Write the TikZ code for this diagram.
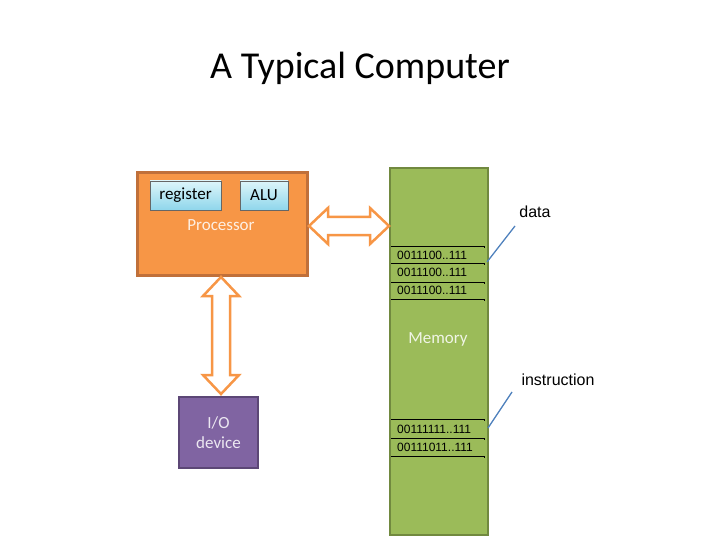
\documentclass[tikz,border=0pt]{standalone}
\usepackage{fontspec}
\setmainfont{Carlito}
\newfontfamily\arial{Liberation Sans}
\definecolor{porange}{HTML}{F79646}
\definecolor{porangeb}{HTML}{C0703A}
\definecolor{mgreen}{HTML}{9BBB59}
\definecolor{mgreenb}{HTML}{71893F}
\definecolor{iopurple}{HTML}{8064A2}
\definecolor{iopurpleb}{HTML}{5C4776}
\definecolor{ptr}{HTML}{4F81BD}
\definecolor{lblue}{HTML}{C6EFF7}
\definecolor{dblue}{HTML}{8FD6EB}
\begin{document}
\begin{tikzpicture}[x=1pt,y=-1pt,
  bin/.style={font=\arial\fontsize{12}{14}\selectfont, anchor=west, inner sep=0pt},
  lab/.style={font=\arial\fontsize{16}{18}\selectfont},
  sub/.style={draw=black!60, top color=lblue!60, bottom color=dblue, minimum height=29, inner sep=0pt, font=\fontsize{17}{19}\selectfont},
  dbl/.style={draw=porange, fill=white, line width=2.5pt, line join=miter},
  pointer/.style={draw=ptr, line width=1.3pt}]
\useasboundingbox (0,0) rectangle (720,540);
\node (title) at (360,68) {\fontsize{38}{44}\selectfont A Typical Computer};
% processor
\node (proc) [draw=porangeb, line width=3pt, fill=porange, minimum width=170, minimum height=102, inner sep=0pt] at (222,224) {};
\node (reg) [sub, minimum width=71] at (185.5,195.5) {register};
\node (alu) [sub, minimum width=48] at (264,195.5) {ALU};
\node (ptext) [text=white!85!porange, font=\fontsize{17}{19}\selectfont] at (221,225) {Processor};
% memory
\node (mem) [draw=mgreenb, line width=2.5pt, fill=mgreen, minimum width=98, minimum height=367, inner sep=0pt] at (439,351.5) {};
\node (mtext) [text=white!85!mgreen, font=\fontsize{17}{19}\selectfont] at (438,339) {Memory};
% io
\node (io) [draw=iopurpleb, line width=2pt, fill=iopurple, minimum width=79, minimum height=71, inner sep=0pt, text=white!85!iopurple, align=center, font=\fontsize{17}{20}\selectfont] at (218.5,432.5) {I/O\\device};
% memory lines
\foreach \y in {246,263,282,299,419,438,456} \draw[black] (391,\y) -- (484,\y) -- (484,\y+2);
\node[bin] (b1) at (397,255) {0011100..111};
\node[bin] (b2) at (397,272) {0011100..111};
\node[bin] (b3) at (397,290) {0011100..111};
\node[bin] (b4) at (397,429) {00111111..111};
\node[bin] (b5) at (397,447) {00111011..111};
% arrows
\draw[dbl] (309,226) -- (328,208) -- (328,217) -- (370,217) -- (370,208) -- (389,226) -- (370,244) -- (370,235) -- (328,235) -- (328,244) -- cycle;
\draw[dbl] (221,277) -- (239,296) -- (230,296) -- (230,375) -- (239,375) -- (221,394) -- (203,375) -- (212,375) -- (212,296) -- (203,296) -- cycle;
% labels
\node[lab] (data) at (535,212) {data};
\node[lab] (instr) at (558,380) {instruction};
\coordinate (dp) at (487,262);
\coordinate (ip) at (488,428);
\draw[pointer] (515,226) -- (dp);
\draw[pointer] (512,392) -- (ip);
\end{tikzpicture}
\end{document}
